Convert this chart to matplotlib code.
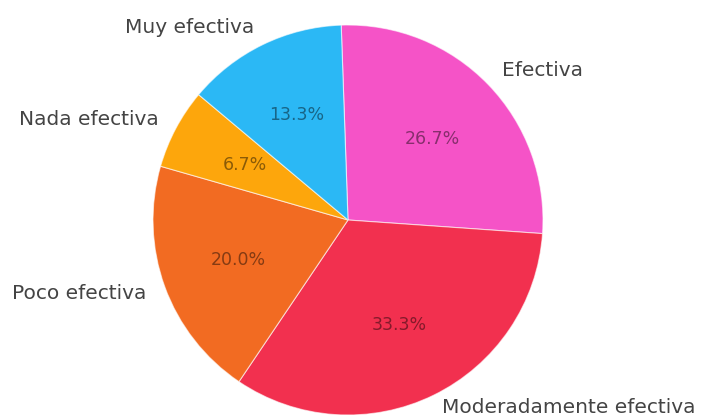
import numpy as np
import matplotlib
matplotlib.use("Agg")
from matplotlib import pyplot as plt
import matplotlib.colors as mcolors
import matplotlib.transforms as mtransforms

labels = ["Efectiva", "Moderadamente efectiva", "Poco efectiva", "Nada efectiva", "Muy efectiva"]
counts = [4, 5, 3, 1, 2]
colors = ["#f553c7", "#f2304f", "#f26b22", "#fda60c", "#2bb8f5"]

W, H = 701, 420
R = 195.0          # pie radius in px
cx, cy = 348, 220  # centre in px (from top)

fig = plt.figure(figsize=(W/100, H/100), dpi=100)
ax = fig.add_axes([0, 0, 1, 1])

wedges, texts, autotexts = ax.pie(
    counts, labels=labels, colors=colors, startangle=92, counterclock=False,
    autopct='%1.1f%%', pctdistance=0.6, labeldistance=1.1,
    wedgeprops=dict(edgecolor=(1, 1, 1, 0.6), linewidth=0.8),
    textprops=dict(fontsize=14.5, color='#444444', family='DejaVu Sans'))

# darker text for the percentages, tinted by slice colour
for t, c in zip(autotexts, colors):
    rgb = np.array(mcolors.to_rgb(c)) * 0.55
    t.set_color(rgb)
    t.set_fontsize(12.5)

# bottom label sits right on the edge, lift it a little
texts[1].set_transform(mtransforms.offset_copy(ax.transData, fig=fig, x=0, y=5, units='dots'))

ax.set_xlim(-cx/R, (W-cx)/R)
ax.set_ylim(-(H-cy)/R, cy/R)
ax.set_aspect('auto')
ax.axis('off')

fig.savefig('out.png', dpi=100, facecolor='white')
